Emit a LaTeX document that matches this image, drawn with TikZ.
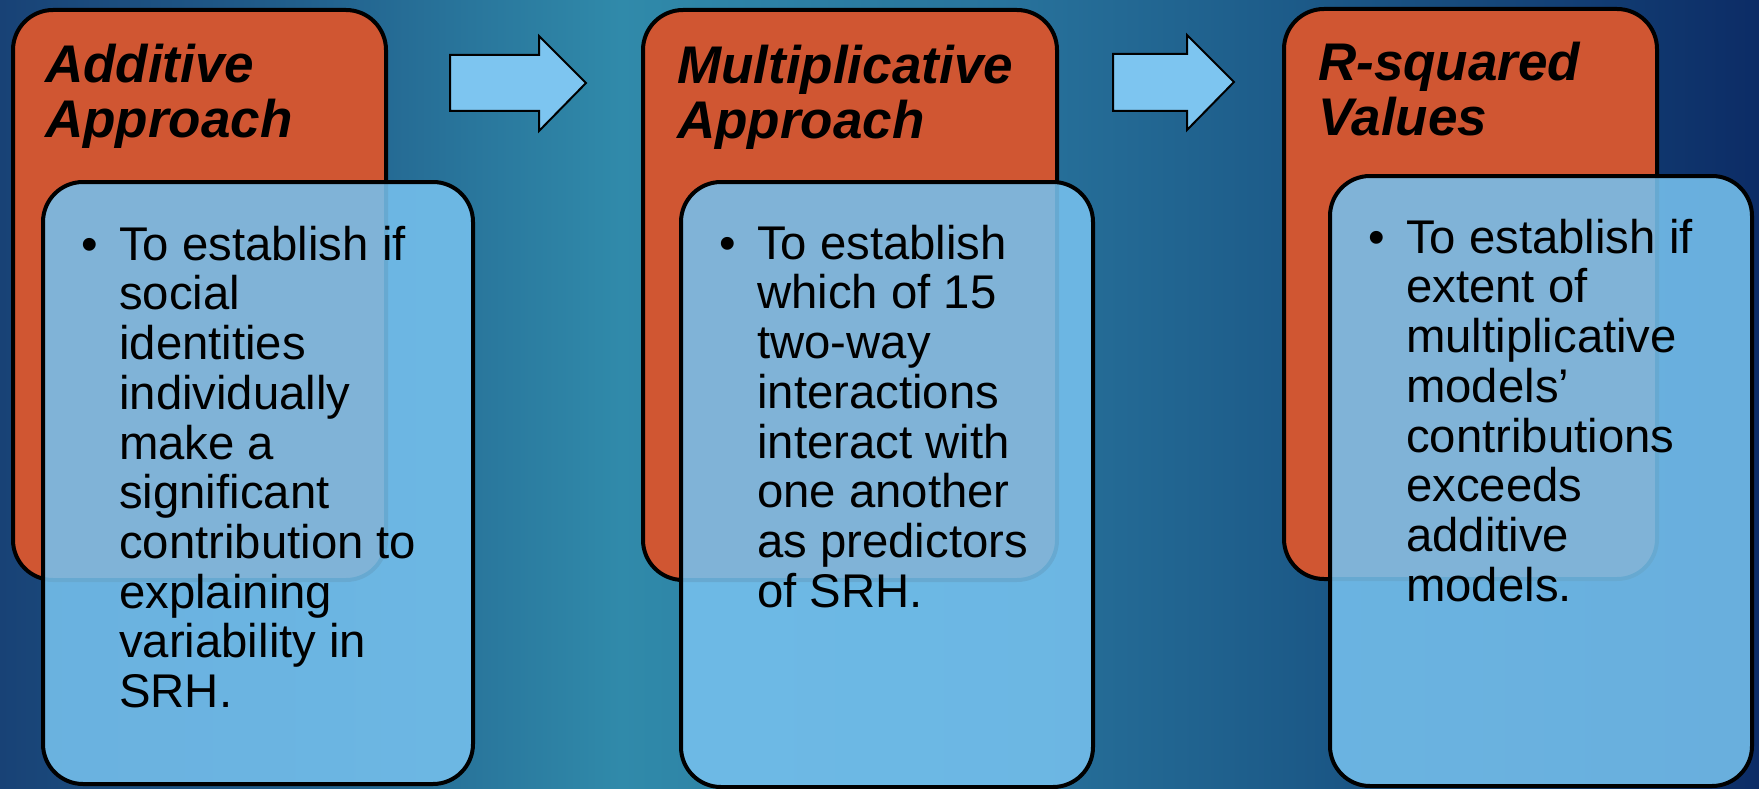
\documentclass[tikz,border=0pt]{standalone}
\usepackage{fontspec}
\setmainfont{Liberation Sans}

% slide background, left to right
\definecolor{bgzero}{RGB}{24,66,118}
\definecolor{bgone}{RGB}{33,95,140}
\definecolor{bgtwo}{RGB}{48,138,170}
\definecolor{bgthree}{RGB}{40,115,156}
\definecolor{bgfour}{RGB}{28,90,136}
\definecolor{bgfive}{RGB}{12,44,102}
% cards and arrows
\definecolor{cardorange}{RGB}{208,86,50}
\definecolor{cardblue}{RGB}{118,193,238}
\definecolor{arrowblue}{RGB}{125,197,240}

\begin{document}
\begin{tikzpicture}[x=1pt,y=-1pt,
  headcard/.style={draw=black, line width=4pt, fill=cardorange, rounded corners=40pt,
    anchor=north west, inner sep=0pt, outer sep=0pt},
  bodycard/.style={draw=black, line width=4pt, fill=cardblue, fill opacity=0.88, draw opacity=1,
    rounded corners=40pt, anchor=north west, inner sep=0pt, outer sep=0pt},
  headtext/.style={anchor=north west, inner sep=0pt, align=left,
    font=\fontsize{53}{55}\selectfont\bfseries\itshape},
  bodytext/.style={anchor=north west, inner sep=0pt, align=left,
    font=\fontsize{47.3}{49.7}\selectfont},
  bulletmark/.style={anchor=base, inner sep=0pt, font=\fontsize{47.3}{49.7}\selectfont},
  flowarrow/.style={draw=black, line width=2pt, fill=arrowblue, line join=miter}
]
\useasboundingbox (0,0) rectangle (1759,789);

% background gradient
\shade[left color=bgzero,  right color=bgone]   (0,0)    rectangle (301,789);
\shade[left color=bgone,   right color=bgtwo]   (300,0)  rectangle (621,789);
\shade[left color=bgtwo,   right color=bgthree] (620,0)  rectangle (1001,789);
\shade[left color=bgthree, right color=bgfour]  (1000,0) rectangle (1301,789);
\shade[left color=bgfour,  right color=bgfive]  (1300,0) rectangle (1759,789);

% block arrows between the stages
\draw[flowarrow] (450,55) -- (539,55) -- (539,36) -- (586,83) -- (539,131) -- (539,111) -- (450,111) -- cycle;
\draw[flowarrow] (1113,54) -- (1187,54) -- (1187,35) -- (1234,82) -- (1187,130) -- (1187,111) -- (1113,111) -- cycle;

% stage header cards
\node[headcard, minimum width=373pt, minimum height=570pt] (head1) at (13,10) {};
\node[headcard, minimum width=414pt, minimum height=570pt] (head2) at (643,10) {};
\node[headcard, minimum width=373pt, minimum height=570pt] (head3) at (1284,9) {};

\node[headtext] (title1) at (45,40)   {\rule{0pt}{42pt}Additive\\Approach};
\node[headtext] (title2) at (677,41)  {\rule{0pt}{42pt}Multiplicative\\Approach};
\node[headtext] (title3) at (1318,38) {\rule{0pt}{42pt}R-squared\\Values};

% detail cards
\node[bodycard, minimum width=430pt, minimum height=602pt] (body1) at (43,182) {};
\node[bodycard, minimum width=412pt, minimum height=605pt] (body2) at (681,182) {};
\node[bodycard, minimum width=422pt, minimum height=610pt] (body3) at (1330,176) {};

\node[bulletmark] (dot1) at (90,260)  {•};
\node[bulletmark] (dot2) at (728,259) {•};
\node[bulletmark] (dot3) at (1377,253) {•};

\node[bodytext] (text1) at (119,222) {\rule{0pt}{38pt}To establish if\\social\\identities\\individually\\make a\\significant\\contribution to\\explaining\\variability in\\SRH.};
\node[bodytext] (text2) at (757,221) {\rule{0pt}{38pt}To establish\\which of 15\\two-way\\interactions\\interact with\\one another\\as predictors\\of SRH.};
\node[bodytext] (text3) at (1406,215) {\rule{0pt}{38pt}To establish if\\extent of\\multiplicative\\models’\\contributions\\exceeds\\additive\\models.};
\end{tikzpicture}
\end{document}
